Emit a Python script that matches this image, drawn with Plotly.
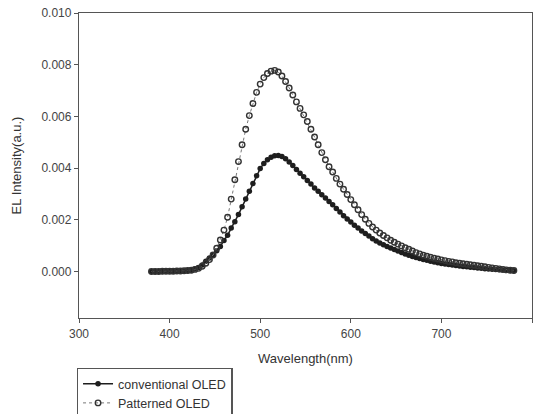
import plotly.graph_objects as go

wavelength = list(range(380, 781, 4))

conventional = [
    0.00000, 0.00000, 0.00000, 0.00000, 0.00001, 0.00001, 0.00001, 0.00001, 0.00002, 0.00002,
    0.00003, 0.00005, 0.00010, 0.00015, 0.00025, 0.00040, 0.00052, 0.00065, 0.00080, 0.00097,
    0.00120, 0.00140, 0.00168, 0.00192, 0.00220, 0.00250, 0.00280, 0.00310, 0.00340, 0.00370,
    0.00398, 0.00418, 0.00432, 0.00442, 0.00448, 0.00449, 0.00445, 0.00436, 0.00424, 0.00410,
    0.00395, 0.00380, 0.00366, 0.00352, 0.00338, 0.00323, 0.00310, 0.00297, 0.00284, 0.00271,
    0.00258, 0.00244, 0.00230, 0.00216, 0.00203, 0.00191, 0.00179, 0.00168, 0.00157, 0.00147,
    0.00137, 0.00127, 0.00118, 0.00110, 0.00103, 0.00097, 0.00091, 0.00085, 0.00079, 0.00073,
    0.00068, 0.00063, 0.00058, 0.00054, 0.00050, 0.00046, 0.00043, 0.00040, 0.00037, 0.00034,
    0.00031, 0.00029, 0.00027, 0.00025, 0.00023, 0.00021, 0.00019, 0.00018, 0.00016, 0.00015,
    0.00013, 0.00012, 0.00011, 0.00010, 0.00009, 0.00008, 0.00007, 0.00006, 0.00005, 0.00004,
    0.00003,
]

patterned = [
    0.00000, 0.00000, 0.00000, 0.00001, 0.00001, 0.00001, 0.00001, 0.00002, 0.00002, 0.00003,
    0.00004, 0.00005, 0.00008, 0.00012, 0.00020, 0.00032, 0.00046, 0.00064, 0.00090, 0.00122,
    0.00160, 0.00210, 0.00280, 0.00355, 0.00425, 0.00490, 0.00550, 0.00603, 0.00650, 0.00693,
    0.00725, 0.00750, 0.00766, 0.00775, 0.00778, 0.00772, 0.00756, 0.00735, 0.00710, 0.00683,
    0.00656, 0.00631, 0.00606, 0.00580, 0.00550, 0.00520, 0.00490, 0.00460, 0.00432, 0.00405,
    0.00385, 0.00360, 0.00338, 0.00318, 0.00298, 0.00278, 0.00258, 0.00239, 0.00220, 0.00202,
    0.00186, 0.00172, 0.00160, 0.00149, 0.00139, 0.00130, 0.00121, 0.00113, 0.00106, 0.00099,
    0.00092, 0.00086, 0.00079, 0.00073, 0.00068, 0.00063, 0.00059, 0.00055, 0.00051, 0.00048,
    0.00045, 0.00042, 0.00039, 0.00037, 0.00034, 0.00032, 0.00030, 0.00028, 0.00026, 0.00024,
    0.00022, 0.00020, 0.00018, 0.00016, 0.00014, 0.00012, 0.00010, 0.00008, 0.00006, 0.00005,
    0.00004,
]

y_ticks = [0.000, 0.002, 0.004, 0.006, 0.008, 0.010]
x_ticks = [300, 400, 500, 600, 700, 800]

FONT = "Arial, Liberation Sans, sans-serif"

fig = go.Figure()
fig.add_trace(go.Scatter(
    x=wavelength, y=conventional, name="conventional OLED",
    mode="lines+markers",
    line=dict(color="#1e1e1e", width=1.5),
    marker=dict(symbol="circle", size=5.5, color="#1e1e1e", line=dict(width=0)),
))
fig.add_trace(go.Scatter(
    x=wavelength, y=patterned, name="Patterned OLED",
    mode="lines+markers",
    line=dict(color="#777777", width=1, dash="dot"),
    marker=dict(symbol="circle-open", size=5.5, color="#333333", line=dict(width=1.4)),
))

axis_common = dict(
    showline=True, linecolor="#555555", linewidth=1.3, mirror=True,
    ticks="outside", ticklen=4, tickcolor="#555555", tickwidth=1,
    showgrid=False, zeroline=False, automargin=False,
    tickfont=dict(family=FONT, size=12, color="#444444"),
)

fig.update_xaxes(
    range=[300, 800], tickvals=x_ticks, ticktext=[str(v) for v in x_ticks],
    title=dict(text="Wavelength(nm)", standoff=14,
               font=dict(family=FONT, size=13, color="#333333")),
    **axis_common,
)
fig.update_yaxes(
    range=[-0.0018, 0.010], tickvals=y_ticks, ticktext=[f"{v:.3f}" for v in y_ticks],
    title=dict(text="EL Intensity(a.u.)", standoff=16,
               font=dict(family=FONT, size=13, color="#333333")),
    **axis_common,
)

fig.update_layout(
    width=541, height=414,
    margin=dict(l=79, r=9, t=13, b=96, autoexpand=False),
    paper_bgcolor="white", plot_bgcolor="white",
    showlegend=True,
    legend=dict(
        x=-0.005, y=-0.163, xanchor="left", yanchor="top",
        bordercolor="#555555", borderwidth=1.3, bgcolor="white",
        font=dict(family=FONT, size=12.5, color="#333333"),
        itemwidth=30, tracegroupgap=0,
    ),
)

fig.write_html(
    "out.html",
    config={"displayModeBar": False},
    post_script="document.body.style.margin='0';document.body.style.overflow='hidden';",
)
